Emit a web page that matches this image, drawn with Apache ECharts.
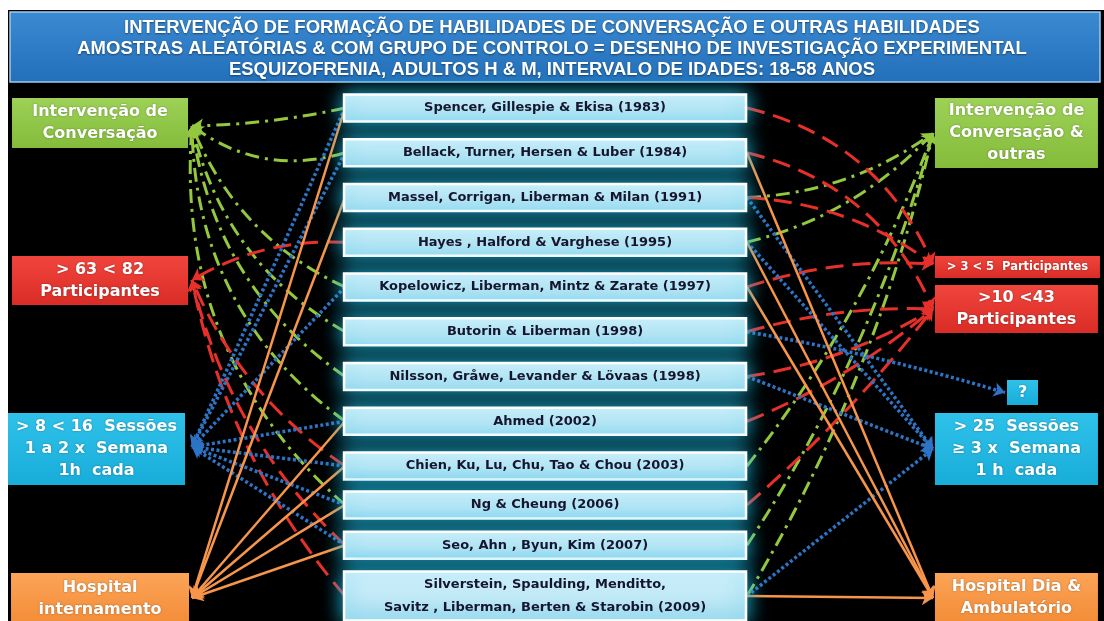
<!DOCTYPE html>
<html><head><meta charset="utf-8">
<script src="https://cdn.jsdelivr.net/npm/echarts@6/dist/echarts.min.js"></script>
<style>html,body{margin:0;padding:0;background:#fff;}#c{width:1104px;height:621px;}</style>
</head><body><div id="c"></div>
<script>
// ---------------- DATA ----------------
const titleLines = [
  'INTERVENÇÃO DE FORMAÇÃO DE HABILIDADES DE CONVERSAÇÃO E OUTRAS HABILIDADES',
  'AMOSTRAS ALEATÓRIAS & COM GRUPO DE CONTROLO = DESENHO DE INVESTIGAÇÃO EXPERIMENTAL',
  'ESQUIZOFRENIA, ADULTOS H & M, INTERVALO DE IDADES: 18-58 ANOS'
];
const studies = [
  'Spencer, Gillespie & Ekisa (1983)',
  'Bellack, Turner, Hersen & Luber (1984)',
  'Massel, Corrigan, Liberman & Milan (1991)',
  'Hayes , Halford & Varghese (1995)',
  'Kopelowicz, Liberman, Mintz & Zarate (1997)',
  'Butorin & Liberman (1998)',
  'Nilsson, Gråwe, Levander & Lövaas (1998)',
  'Ahmed (2002)',
  'Chien, Ku, Lu, Chu, Tao & Chou (2003)',
  'Ng & Cheung (2006)',
  'Seo, Ahn , Byun, Kim (2007)',
  'Silverstein, Spaulding, Menditto,\nSavitz , Liberman, Berten & Starobin (2009)'
];
const leftTargets = [
  'Intervenção de\nConversação',
  '> 63 < 82\nParticipantes',
  '> 8 < 16  Sessões\n1 a 2 x  Semana\n1h  cada',
  'Hospital\ninternamento'
];
const rightTargets = [
  'Intervenção de\nConversação &\noutras',
  '> 3 < 5  Participantes',
  '>10 <43\nParticipantes',
  '?',
  '> 25  Sessões\n≥ 3 x  Semana\n1 h  cada',
  'Hospital Dia &\nAmbulatório'
];
// study indexes linked to each outcome
const convLeft    = [0, 1, 4, 5, 6, 7, 9];
const convRight   = [2, 3, 8, 10, 11];
const partLeft    = [3, 8, 10, 11];
const partSmall   = [0, 2, 4];
const partRight   = [1, 5, 6, 7, 9];
const sessLeft    = [0, 1, 4, 7, 8, 9, 10];
const sessRight   = [2, 3, 6, 11];
const sessUnknown = [5];
const hospLeft    = [0, 2, 7, 8, 9, 10];
const hospRight   = [1, 3, 4, 11];

// ---------------- LAYOUT (axis units: x = % of width, y = study row) ----------------
const X = {leftBox: 9.06, leftCyan: 8.74, leftTip: 17.39, studyL: 31.25, studyC: 49.37, studyR: 67.66,
           rightTip: 84.51, rightBox: 92.07, rightSmall: 92.16, qBox: 92.62, qTip: 91.03};
const studyRows = [0, 1, 2, 3, 4, 5, 6, 7, 8, 8.87, 9.77, 10.905];
const leftBoxRows = [0.335, 3.855, 7.62, 10.972];
const leftTipRows = [0.40, 3.844, 7.575, 10.95];
const leftBoxSizes = [[176, 50], [176, 49], [177, 72], [178, 52]];
const rightBoxRows = [0.559, 3.553, 4.492, 6.358, 7.62, 10.95];
const rightTipRows = [0.559, 3.49, 4.49, 6.36, 7.62, 10.95];
const rightBoxSizes = [[163, 70], [165, 22], [163, 48], [31, 25], [163, 72], [163, 50]];

const C = {green: '#93c83f', red: '#e8302b', blue: '#2d74c6', orange: '#f7964a'};
const grad = (a, b) => new echarts.graphic.LinearGradient(0, 0, 0, 1, [{offset: 0, color: a}, {offset: 1, color: b}]);
const boxFill = {
  green: grad('#9dd157', '#84bc3a'), red: grad('#f0453c', '#d92c26'),
  cyan: grad('#2ec2ea', '#18acd9'), orange: grad('#fba457', '#f38c37')
};
const leftColors = ['green', 'red', 'cyan', 'orange'];
const rightColors = ['green', 'red', 'red', 'cyan', 'cyan', 'orange'];
const boxFont = "'DejaVu Sans', sans-serif";

// box specs (drawn by a custom series at axis coordinates)
const boxData = [];
const boxSpecs = [];
studies.forEach((s, i) => {
  boxData.push([X.studyC, studyRows[i]]);
  boxSpecs.push({w: 402, h: i === 11 ? 49 : 27, fill: grad('#dcf4fc', '#a9def0'), stroke: '#ffffff', lw: 2.5,
    glow: 'rgba(30,190,230,1)', blur: 20, text: s, tc: '#15152e', fs: 13, lh: 23, shadow: false});
});
leftTargets.forEach((t, i) => {
  boxData.push([i === 2 ? X.leftCyan : X.leftBox, leftBoxRows[i]]);
  boxSpecs.push({w: leftBoxSizes[i][0], h: leftBoxSizes[i][1], fill: boxFill[leftColors[i]], stroke: null, lw: 0,
    glow: null, blur: 0, text: t, tc: '#fff', fs: 16, lh: 22, shadow: true});
});
rightTargets.forEach((t, i) => {
  boxData.push([i === 1 ? X.rightSmall : (i === 3 ? X.qBox : X.rightBox), rightBoxRows[i]]);
  boxSpecs.push({w: rightBoxSizes[i][0], h: rightBoxSizes[i][1], fill: boxFill[rightColors[i]], stroke: null, lw: 0,
    glow: null, blur: 0, text: t, tc: '#fff', fs: i === 1 ? 11.5 : 16, lh: 22, shadow: true});
});

const links = [];
const styles = {
  green: {color: C.green, width: 3, type: [14, 6, 3, 6]},
  red: {color: C.red, width: 3, type: [18, 9]},
  blue: {color: C.blue, width: 3.5, type: [3, 2.5]},
  orange: {color: C.orange, width: 2.5, type: 'solid'}
};
function connect(list, side, targetIdx, style, curv) {
  list.forEach(s => {
    const c = typeof curv === 'function' ? curv(s) : curv;
    const from = side === 'L' ? [X.studyL, studyRows[s]] : [X.studyR, studyRows[s]];
    const to = side === 'L' ? [X.leftTip, leftTipRows[targetIdx]]
      : [targetIdx === 3 ? X.qTip : X.rightTip, rightTipRows[targetIdx]];
    links.push({coords: [from, to], lineStyle: Object.assign({}, styles[style], {curveness: c, opacity: 1})});
  });
}
const leftGreenCurv = {0: 0.05, 1: 0.25, 4: 0.2, 5: 0.22, 6: 0.22, 7: 0.25, 9: 0.25};
connect(convLeft, 'L', 0, 'green', s => leftGreenCurv[s]);
const leftRedCurv = {3: -0.15, 8: 0.15, 10: 0.15, 11: 0.13};
connect(partLeft, 'L', 1, 'red', s => leftRedCurv[s]);
connect(sessLeft, 'L', 2, 'blue', 0);
connect(hospLeft, 'L', 3, 'orange', 0);
connect(convRight, 'R', 0, 'green', s => s === 2 || s === 3 ? -0.15 : -0.08);
const smallCurv = {0: 0.25, 2: 0.15, 4: 0.1};
connect(partSmall, 'R', 1, 'red', s => smallCurv[s]);
const partRCurv = {1: 0.25, 5: 0.08, 6: -0.1, 7: -0.08, 9: -0.05};
connect(partRight, 'R', 2, 'red', s => partRCurv[s]);
connect(sessUnknown, 'R', 3, 'blue', 0.03);
connect(sessRight, 'R', 4, 'blue', 0);
connect(hospRight, 'R', 5, 'orange', 0);

function renderBox(params, api) {
  const sp = boxSpecs[params.dataIndex];
  const p = api.coord([api.value(0), api.value(1)]);
  return {
    type: 'rect',
    shape: {x: p[0] - sp.w / 2, y: p[1] - sp.h / 2, width: sp.w, height: sp.h},
    style: {fill: sp.fill, stroke: sp.stroke, lineWidth: sp.lw,
      shadowBlur: sp.blur, shadowColor: sp.glow || 'transparent'},
    textContent: {style: {text: sp.text, fill: sp.tc, fontFamily: boxFont, fontWeight: 'bold',
      fontSize: sp.fs, lineHeight: sp.lh, align: 'center', verticalAlign: 'middle',
      textShadowColor: sp.shadow ? 'rgba(0,0,0,0.35)' : 'transparent', textShadowBlur: sp.shadow ? 2 : 0}},
    textConfig: {position: 'inside'}
  };
}

const chart = echarts.init(document.getElementById('c'), null, {renderer: 'canvas'});
chart.setOption({
  animation: false,
  backgroundColor: '#ffffff',
  title: {
    text: titleLines.join('\n'), left: 'center', top: 12.5,
    textStyle: {color: '#fff', fontSize: 18.5, fontWeight: 'bold', lineHeight: 21,
      fontFamily: "'Liberation Sans', sans-serif",
      textShadowColor: 'rgba(0,0,0,0.45)', textShadowBlur: 2, textShadowOffsetY: 1}
  },
  graphic: [
    {type: 'rect', z: -10, silent: true, shape: {x: 8, y: 10, width: 1096, height: 611}, style: {fill: '#000'}},
    {type: 'rect', z: -9, silent: true, shape: {x: 10, y: 12, width: 1090, height: 70},
      style: {fill: grad('#3a8ad2', '#236fb9'), stroke: '#9dcaf0', lineWidth: 1.5}}
  ],
  grid: {left: 0, right: 0, top: 0, bottom: 0},
  xAxis: {type: 'value', min: 0, max: 100, show: false},
  yAxis: {type: 'value', inverse: true, min: -2.4134, max: 11.4637, show: false},
  series: [
    {type: 'lines', coordinateSystem: 'cartesian2d', silent: true, z: 2,
     symbol: ['none', 'arrow'], symbolSize: 11, data: links},
    {type: 'custom', coordinateSystem: 'cartesian2d', silent: true, z: 3, clip: false,
     renderItem: renderBox, data: boxData}
  ]
});
</script></body></html>
